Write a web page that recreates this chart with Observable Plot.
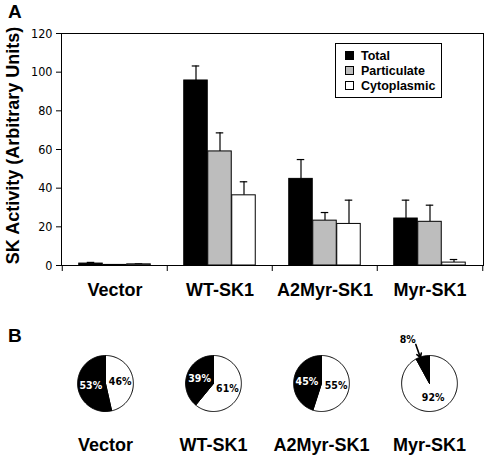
<!DOCTYPE html>
<html>
<head>
<meta charset="utf-8">
<script src="https://cdn.jsdelivr.net/npm/d3@7"></script>
<script src="https://cdn.jsdelivr.net/npm/@observablehq/plot@0.6"></script>
<style>
  html, body { margin: 0; padding: 0; background: #fff; }
  #wrap { position: relative; width: 484px; height: 456px; overflow: hidden; font-family: "Liberation Sans", Arial, sans-serif; color: #000; }
  #wrap svg { display: block; }
  .panel { position: absolute; font-weight: bold; font-size: 19px; }
  #legend { position: absolute; left: 335px; top: 43px; width: 105px; height: 53px; border: 1px solid #000; background: #fff; }
  #legend .row { position: absolute; left: 9px; height: 15px; line-height: 15px; font-size: 12.5px; font-weight: bold; white-space: nowrap; }
  #legend .sw { display: inline-block; width: 7px; height: 7px; border: 1px solid #000; margin-right: 7px; vertical-align: 0px; }
</style>
</head>
<body>
<div id="wrap">
  <div id="chartA"></div>
  <div id="chartB"></div>
  <div class="panel" style="left:8px; top:1px;">A</div>
  <div class="panel" style="left:8px; top:325px;">B</div>
  <div id="legend"></div>
</div>
<script>
// ---------- data ----------
const categories = ["Vector", "WT-SK1", "A2Myr-SK1", "Myr-SK1"];
const series = ["Total", "Particulate", "Cytoplasmic"];
const seriesColors = ["#000000", "#bdbdbd", "#ffffff"];

const totalValues       = [1.0, 95.7, 44.8, 24.3];
const totalErrors       = [0.6, 7.5, 10.0, 9.5];
const particulateValues = [0.3, 59.0, 23.2, 22.6];
const particulateErrors = [0, 9.6, 4.2, 8.6];
const cytoplasmicValues = [0.6, 36.3, 21.5, 1.5];
const cytoplasmicErrors = [0.3, 7.0, 12.3, 1.6];

const yTicks = [0, 20, 40, 60, 80, 100, 120];
const yLabel = "SK Activity (Arbitrary Units)";

// pie shares (%) per construct
const pieParticulate = [53, 39, 45, 8];
const pieCytoplasmic = [46, 61, 55, 92];

// ---------- panel A ----------
const valuesBySeries = [totalValues, particulateValues, cytoplasmicValues];
const errorsBySeries = [totalErrors, particulateErrors, cytoplasmicErrors];
const rows = [];
series.forEach((s, k) => categories.forEach((c, i) => rows.push({
  category: c, series: s, value: valuesBySeries[k][i], err: errorsBySeries[k][i]
})));

const W = 484, HA = 310, mL = 61, mR = 1, mT = 33, mB = 45;
const bw = (W - mL - mR) / categories.length;
const barW = 24, capW = 8;
const narrow = "'Liberation Sans Narrow', 'Arial Narrow', 'DejaVu Sans Condensed', sans-serif";

const marksA = [];
series.forEach((s, k) => {
  const dx = (k - 1) * barW;
  const data = rows.filter(d => d.series === s);
  const withErr = data.filter(d => d.err > 0);
  marksA.push(Plot.ruleX(withErr, {x: "category", y1: "value", y2: d => d.value + d.err, dx, stroke: "#000", strokeWidth: 1.2}));
  marksA.push(Plot.tickY(withErr, {x: "category", y: d => d.value + d.err, dx, insetLeft: (bw - capW) / 2, insetRight: (bw - capW) / 2, stroke: "#000", strokeWidth: 1.2}));
  marksA.push(Plot.barY(data, {x: "category", y: "value", fill: "series", stroke: "#000", strokeWidth: 1, dx, insetLeft: (bw - barW) / 2, insetRight: (bw - barW) / 2}));
});

const chartA = Plot.plot({
  width: W, height: HA,
  marginLeft: mL, marginRight: mR, marginTop: mT, marginBottom: mB,
  style: {fontFamily: "'Liberation Sans', Arial, sans-serif", color: "#000", background: "transparent"},
  x: {domain: categories, padding: 0, axis: null},
  y: {domain: [0, 120], axis: null},
  color: {domain: series, range: seriesColors},
  marks: [
    ...marksA,
    Plot.frame({stroke: "#000", strokeWidth: 1}),
    Plot.ruleX(categories, {x: d => d, y1: 0, y2: 0, dx: -bw / 2, insetBottom: -6, stroke: "#000"}),
    Plot.ruleX(categories.slice(-1), {x: d => d, y1: 0, y2: 0, dx: bw / 2, insetBottom: -6, stroke: "#000"}),
    Plot.axisY(yTicks, {tickSize: 5, tickPadding: 4, fontSize: 12.5, fontFamily: narrow, label: null}),
    Plot.axisX({tickSize: 0, tickPadding: 18, fontSize: 18, fontWeight: "bold", label: null}),
    Plot.text([yLabel], {frameAnchor: "left", textAnchor: "middle", rotate: -90, dx: -48, dy: -4, fontSize: 18, fontWeight: "bold"})
  ]
});
document.getElementById("chartA").appendChild(chartA);

// legend
const legend = document.getElementById("legend");
series.forEach((s, k) => {
  const r = document.createElement("div");
  r.className = "row";
  r.style.top = (5 + k * 15) + "px";
  r.innerHTML = `<span class="sw" style="background:${seriesColors[k]}"></span>${s}`;
  legend.appendChild(r);
});

// ---------- panel B ----------
const HB = 146;
const R = 28; // pie radius in px
const mLB = 50;
const fbw = (W - mLB) / categories.length;
const xr = fbw / (2 * R);
const pts = [], labels = [], arrows = [];
const rad = a => a * Math.PI / 180;
categories.forEach((c, i) => {
  const total = pieParticulate[i] + pieCytoplasmic[i];
  const slices = [
    {name: "cyto", pct: pieCytoplasmic[i], fill: "#ffffff", text: "#000000"},
    {name: "part", pct: pieParticulate[i], fill: "#000000", text: "#ffffff"}
  ];
  let a0 = 0;
  slices.forEach(s => {
    const a1 = a0 + 360 * s.pct / total;
    const key = c + "-" + s.name;
    pts.push({category: c, key, fill: s.fill, x: 0, y: 0});
    const n = Math.max(2, Math.ceil((a1 - a0) / 2));
    for (let j = 0; j <= n; j++) {
      const a = rad(a0 + (a1 - a0) * j / n);
      pts.push({category: c, key, fill: s.fill, x: Math.sin(a), y: Math.cos(a)});
    }
    pts.push({category: c, key, fill: s.fill, x: 0, y: 0});
    const mid = (a0 + a1) / 2;
    if (s.pct >= 15) {
      labels.push({category: c, text: s.pct + "%", color: s.text, x: 0.53 * Math.sin(rad(mid)), y: 0.53 * Math.cos(rad(mid))});
    } else {
      labels.push({category: c, text: s.pct + "%", color: "#000000", x: 1.75 * Math.sin(rad(mid - 12)), y: 1.75 * Math.cos(rad(mid - 12))});
      const am = rad(mid - 5);
      arrows.push({category: c, x1: 1.48 * Math.sin(am), y1: 1.48 * Math.cos(am), x2: 0.98 * Math.sin(am), y2: 0.98 * Math.cos(am)});
    }
    a0 = a1;
  });
});

const chartB = Plot.plot({
  width: W, height: HB,
  marginLeft: mLB, marginRight: 0, marginTop: 45, marginBottom: 45,
  style: {fontFamily: "'Liberation Sans', Arial, sans-serif", color: "#000", background: "transparent", overflow: "visible"},
  fx: {domain: categories, padding: 0, label: null, axis: null},
  x: {domain: [-xr, xr], axis: null},
  y: {domain: [-1, 1], axis: null},
  color: {type: "identity"},
  marks: [
    Plot.line(pts, {fx: "category", x: "x", y: "y", z: "key", fill: "fill", stroke: "#000", strokeWidth: 1, curve: "linear"}),
    Plot.text(labels, {fx: "category", x: "x", y: "y", text: "text", fill: "color", fontSize: 10.5, fontWeight: "bold", fontFamily: narrow}),
    Plot.arrow(arrows, {fx: "category", x1: "x1", y1: "y1", x2: "x2", y2: "y2", stroke: "#000", strokeWidth: 1.6, headLength: 6}),
    Plot.axisFx({anchor: "bottom", tickSize: 0, tickPadding: 27, fontSize: 18, fontWeight: "bold", label: null})
  ]
});
document.getElementById("chartB").appendChild(chartB);
</script>
</body>
</html>
